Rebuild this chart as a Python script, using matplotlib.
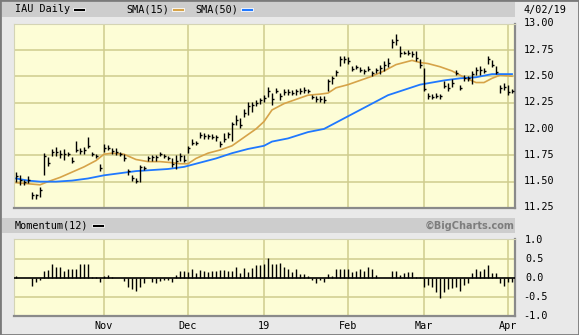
import numpy as np
import matplotlib.pyplot as plt
from matplotlib.patches import Rectangle

W, H = 579, 335

# daily bars, one per trading day (index 0 = early Oct 2018, 124 = 4/02/19)
low = [11.50, 11.47, 11.47, 11.49, 11.34, 11.34, 11.35, 11.56, 11.65, 11.74,
       11.74, 11.72, 11.71, 11.74, 11.68, 11.78, 11.76, 11.76, 11.82, 11.74,
       11.72, 11.60, 11.78, 11.80, 11.76, 11.75, 11.74, 11.70, 11.56, 11.51,
       11.49, 11.50, 11.61, 11.70, 11.70, 11.70, 11.74, 11.72, 11.71, 11.64,
       11.62, 11.70, 11.69, 11.77, 11.85, 11.85, 11.91, 11.90, 11.90, 11.90,
       11.89, 11.83, 11.88, 11.91, 11.89, 12.04, 12.01, 12.11, 12.13, 12.16,
       12.22, 12.24, 12.26, 12.30, 12.23, 12.34, 12.27, 12.32, 12.32, 12.32,
       12.32, 12.33, 12.34, 12.34, 12.28, 12.26, 12.26, 12.25, 12.36, 12.43,
       12.50, 12.60, 12.63, 12.62, 12.55, 12.57, 12.54, 12.52, 12.55, 12.50,
       12.53, 12.52, 12.55, 12.59, 12.77, 12.80, 12.68, 12.71, 12.70, 12.68,
       12.64, 12.58, 12.36, 12.28, 12.28, 12.29, 12.28, 12.39, 12.36, 12.40,
       12.51, 12.37, 12.45, 12.45, 12.43, 12.51, 12.51, 12.53, 12.62, 12.59,
       12.52, 12.34, 12.37, 12.32, 12.34]
high = [11.59, 11.56, 11.52, 11.55, 11.40, 11.38, 11.45, 11.77, 11.73, 11.81,
        11.83, 11.80, 11.81, 11.78, 11.73, 11.89, 11.82, 11.83, 11.92, 11.78,
        11.76, 11.67, 11.86, 11.85, 11.82, 11.82, 11.78, 11.76, 11.62, 11.56,
        11.53, 11.66, 11.65, 11.74, 11.75, 11.75, 11.78, 11.76, 11.74, 11.72,
        11.75, 11.77, 11.75, 11.84, 11.90, 11.89, 11.97, 11.96, 11.95, 11.95,
        11.94, 11.89, 11.96, 11.97, 12.07, 12.13, 12.10, 12.19, 12.26, 12.26,
        12.27, 12.29, 12.32, 12.40, 12.34, 12.39, 12.34, 12.38, 12.38, 12.37,
        12.38, 12.39, 12.40, 12.38, 12.32, 12.31, 12.31, 12.31, 12.47, 12.50,
        12.56, 12.69, 12.69, 12.68, 12.60, 12.61, 12.59, 12.57, 12.60, 12.55,
        12.58, 12.61, 12.64, 12.67, 12.85, 12.90, 12.79, 12.74, 12.75, 12.74,
        12.74, 12.66, 12.58, 12.34, 12.33, 12.34, 12.33, 12.45, 12.44, 12.47,
        12.56, 12.42, 12.51, 12.50, 12.55, 12.59, 12.60, 12.58, 12.69, 12.65,
        12.60, 12.42, 12.44, 12.42, 12.38]
close = [11.55, 11.52, 11.50, 11.52, 11.37, 11.37, 11.42, 11.74, 11.68, 11.78,
         11.78, 11.76, 11.76, 11.76, 11.70, 11.80, 11.79, 11.80, 11.84, 11.76,
         11.74, 11.63, 11.82, 11.82, 11.79, 11.78, 11.76, 11.72, 11.60, 11.53,
         11.51, 11.64, 11.63, 11.72, 11.73, 11.73, 11.76, 11.74, 11.72, 11.67,
         11.70, 11.74, 11.71, 11.82, 11.87, 11.87, 11.94, 11.93, 11.93, 11.92,
         11.92, 11.86, 11.90, 11.95, 12.05, 12.08, 12.04, 12.15, 12.22, 12.23,
         12.25, 12.27, 12.29, 12.36, 12.28, 12.36, 12.31, 12.35, 12.35, 12.34,
         12.36, 12.36, 12.37, 12.36, 12.30, 12.28, 12.28, 12.27, 12.45, 12.48,
         12.54, 12.66, 12.66, 12.64, 12.57, 12.59, 12.56, 12.55, 12.57, 12.53,
         12.56, 12.58, 12.61, 12.63, 12.82, 12.84, 12.72, 12.72, 12.72, 12.71,
         12.67, 12.61, 12.38, 12.31, 12.30, 12.31, 12.31, 12.41, 12.39, 12.44,
         12.53, 12.39, 12.48, 12.48, 12.52, 12.56, 12.56, 12.55, 12.66, 12.61,
         12.54, 12.39, 12.40, 12.35, 12.36]

# moving averages (bar index, value)
sma15_idx = [0, 3, 6, 8, 11, 14, 17, 20, 22, 24, 27, 30, 33, 36, 39, 41, 43, 45,
             48, 51, 54, 57, 60, 62, 64, 67, 70, 73, 76, 78, 80, 83, 86, 89, 92,
             95, 97, 99, 101, 103, 106, 109, 112, 115, 117, 119, 121, 124]
sma15_val = [11.49, 11.48, 11.47, 11.50, 11.54, 11.59, 11.64, 11.70, 11.76, 11.77,
             11.76, 11.71, 11.69, 11.69, 11.68, 11.67, 11.67, 11.72, 11.77, 11.80,
             11.84, 11.92, 12.00, 12.07, 12.18, 12.24, 12.28, 12.32, 12.33, 12.34,
             12.39, 12.42, 12.46, 12.50, 12.55, 12.61, 12.63, 12.65, 12.63, 12.62,
             12.59, 12.55, 12.49, 12.44, 12.44, 12.48, 12.51, 12.50]
sma50_idx = [0, 3, 6, 10, 14, 18, 22, 26, 30, 34, 38, 42, 46, 50, 54, 58, 62, 64,
             68, 73, 77, 81, 85, 89, 93, 97, 101, 104, 107, 111, 115, 119, 122, 124]
sma50_val = [11.53, 11.51, 11.50, 11.50, 11.51, 11.53, 11.56, 11.58, 11.60, 11.61,
             11.62, 11.64, 11.68, 11.72, 11.77, 11.81, 11.84, 11.88, 11.91, 11.97,
             12.00, 12.08, 12.16, 12.24, 12.32, 12.37, 12.42, 12.44, 12.46, 12.48,
             12.49, 12.52, 12.52, 12.52]

momentum = [0.06, 0, 0, 0, -0.20, -0.10, -0.05, 0.19, 0.22, 0.38,
            0.31, 0.31, 0.20, 0.24, 0.24, 0.25, 0.39, 0.39, 0.38, 0.03,
            0.03, -0.09, 0.06, 0.09, 0.03, 0, 0, -0.08, -0.22, -0.29,
            -0.32, -0.22, -0.11, 0, -0.09, -0.11, -0.07, -0.04, -0.04, -0.10,
            0.08, 0.19, 0.19, 0.17, 0.24, 0.15, 0.22, 0.20, 0.17, 0.20,
            0.20, 0.22, 0.22, 0.20, 0.20, 0.29, 0.15, 0.28, 0.17, 0.27,
            0.34, 0.34, 0.38, 0.54, 0.38, 0.38, 0.41, 0.30, 0.26, 0.18,
            0.24, 0.12, 0.12, 0.06, -0.05, -0.11, -0.05, -0.09, 0.12, 0.06,
            0.26, 0.26, 0.26, 0.25, 0.18, 0.20, 0.24, 0.20, 0.30, 0.24,
            0.09, 0, 0, 0, 0.20, 0.20, 0.09, 0.13, 0.18, 0.18,
            0.03, 0.03, -0.22, -0.18, -0.22, -0.35, -0.53, -0.36, -0.29, -0.26,
            -0.22, -0.32, -0.18, -0.11, 0.15, 0.25, 0.20, 0.24, 0.35, 0.15,
            0.15, -0.11, -0.20, -0.09, -0.09]

month_idx = [22, 43, 62, 83, 102, 123]
month_lbl = ['Nov', 'Dec', '19', 'Feb', 'Mar', 'Apr']
price_ticks = [11.25, 11.50, 11.75, 12.00, 12.25, 12.50, 12.75, 13.00]
mom_ticks = [-1.0, -0.5, 0.0, 0.5, 1.0]

BG = '#e9e9e9'
BAR = '#cdcdcd'
PLOT_BG = '#fdfdd6'
GRID = '#cfcc8e'
ORANGE = '#d6a349'
BLUE = '#1f78ff'
MONO = 'DejaVu Sans Mono'


def fx(px):
    return px / W


def fy(py):
    return 1 - py / H


fig = plt.figure(figsize=(W / 100, H / 100), dpi=100, facecolor=BG)

# frame and header strips
fig.patches.append(Rectangle((0, 0), 1, 1, transform=fig.transFigure,
                             fill=False, edgecolor='#7a7a7a', linewidth=2))
fig.patches.append(Rectangle((fx(2), fy(17)), fx(513), 15 / H, transform=fig.transFigure,
                             facecolor=BAR, edgecolor='none'))
fig.patches.append(Rectangle((fx(2), fy(233)), fx(513), 15 / H, transform=fig.transFigure,
                             facecolor=BAR, edgecolor='none'))

ax = fig.add_axes([fx(14), fy(208), fx(501), 184.5 / H])
ax2 = fig.add_axes([fx(14), fy(316.3), fx(501), 77 / H])

idx = np.arange(len(close))

for a in (ax, ax2):
    a.set_facecolor(PLOT_BG)
    a.set_xlim(-0.5, 124.75)
    for m in month_idx:
        a.axvline(m, color=GRID, linewidth=1.1, zorder=1)
    a.set_xticks([])
    a.set_yticks([])
    a.spines['top'].set_color('#d4d4b4')
    a.spines['left'].set_color('#d4d4b4')
    a.spines['bottom'].set_color('#8a8a8a')
    a.spines['right'].set_color('#8a8a8a')
    a.spines['bottom'].set_linewidth(1.6)
    a.spines['right'].set_linewidth(1.6)

# price panel
ax.set_ylim(11.25, 13.0)
for p in price_ticks[1:-1]:
    ax.axhline(p, color=GRID, linewidth=1.1, zorder=1)
ax.plot(sma15_idx, sma15_val, color=ORANGE, linewidth=1.2, zorder=2)
ax.plot(sma50_idx, sma50_val, color=BLUE, linewidth=1.3, zorder=2)
ax.vlines(idx, low, high, color='black', linewidth=1.0, zorder=3)
ax.hlines(close, idx, idx + 0.5, color='black', linewidth=1.0, zorder=3)

# momentum panel
ax2.set_ylim(-1.0, 1.03)
for p in (-0.5, 0.5):
    ax2.axhline(p, color=GRID, linewidth=1.1, zorder=1)
ax2.vlines(idx, 0, momentum, color='black', linewidth=1.0, zorder=3)
ax2.axhline(0, color='black', linewidth=1.2, zorder=3)

# right-hand scales
for p in price_ticks:
    y = 23.5 + (13.0 - p) / 1.75 * 184
    fig.text(fx(523.5), fy(y), f'{p:.2f}', family=MONO, fontsize=7.3,
             ha='left', va='center')
for p in mom_ticks:
    y = 278.3 - p * 38
    fig.text(fx(523 if p < 0 else 525), fy(y), f'{p:.1f}', family=MONO,
             fontsize=7.3, ha='left', va='center')

# month labels
for m, lbl in zip(month_idx, month_lbl):
    x = 16 + 4 * m
    fig.text(fx(x), fy(326), lbl, family=MONO, fontsize=7.3, ha='center', va='center')

# header legend
fig.text(fx(15), fy(9.5), 'IAU Daily', family=MONO, fontsize=7.3, va='center')
fig.text(fx(126), fy(9.5), 'SMA(15)', family=MONO, fontsize=7.3, va='center')
fig.text(fx(195), fy(9.5), 'SMA(50)', family=MONO, fontsize=7.3, va='center')
fig.text(fx(523), fy(9.5), '4/02/19', family=MONO, fontsize=7.3, va='center')
fig.text(fx(15), fy(225.5), 'Momentum(12)', family=MONO, fontsize=7.3, va='center')
fig.text(fx(514), fy(225.5), '©BigCharts.com', family='DejaVu Sans', fontsize=7.0,
         fontweight='bold', color='#7d7d7d', ha='right', va='center')
for x0, col, y0 in [(73, 'black', 9.5), (172, ORANGE, 9.5), (241, BLUE, 9.5),
                    (92, 'black', 225.5)]:
    fig.patches.append(Rectangle((fx(x0), fy(y0 + 1.5)), fx(12), 3 / H,
                                 transform=fig.transFigure, facecolor=col,
                                 edgecolor='white', linewidth=0.6))

fig.savefig('out.png', dpi=100, facecolor=BG)
